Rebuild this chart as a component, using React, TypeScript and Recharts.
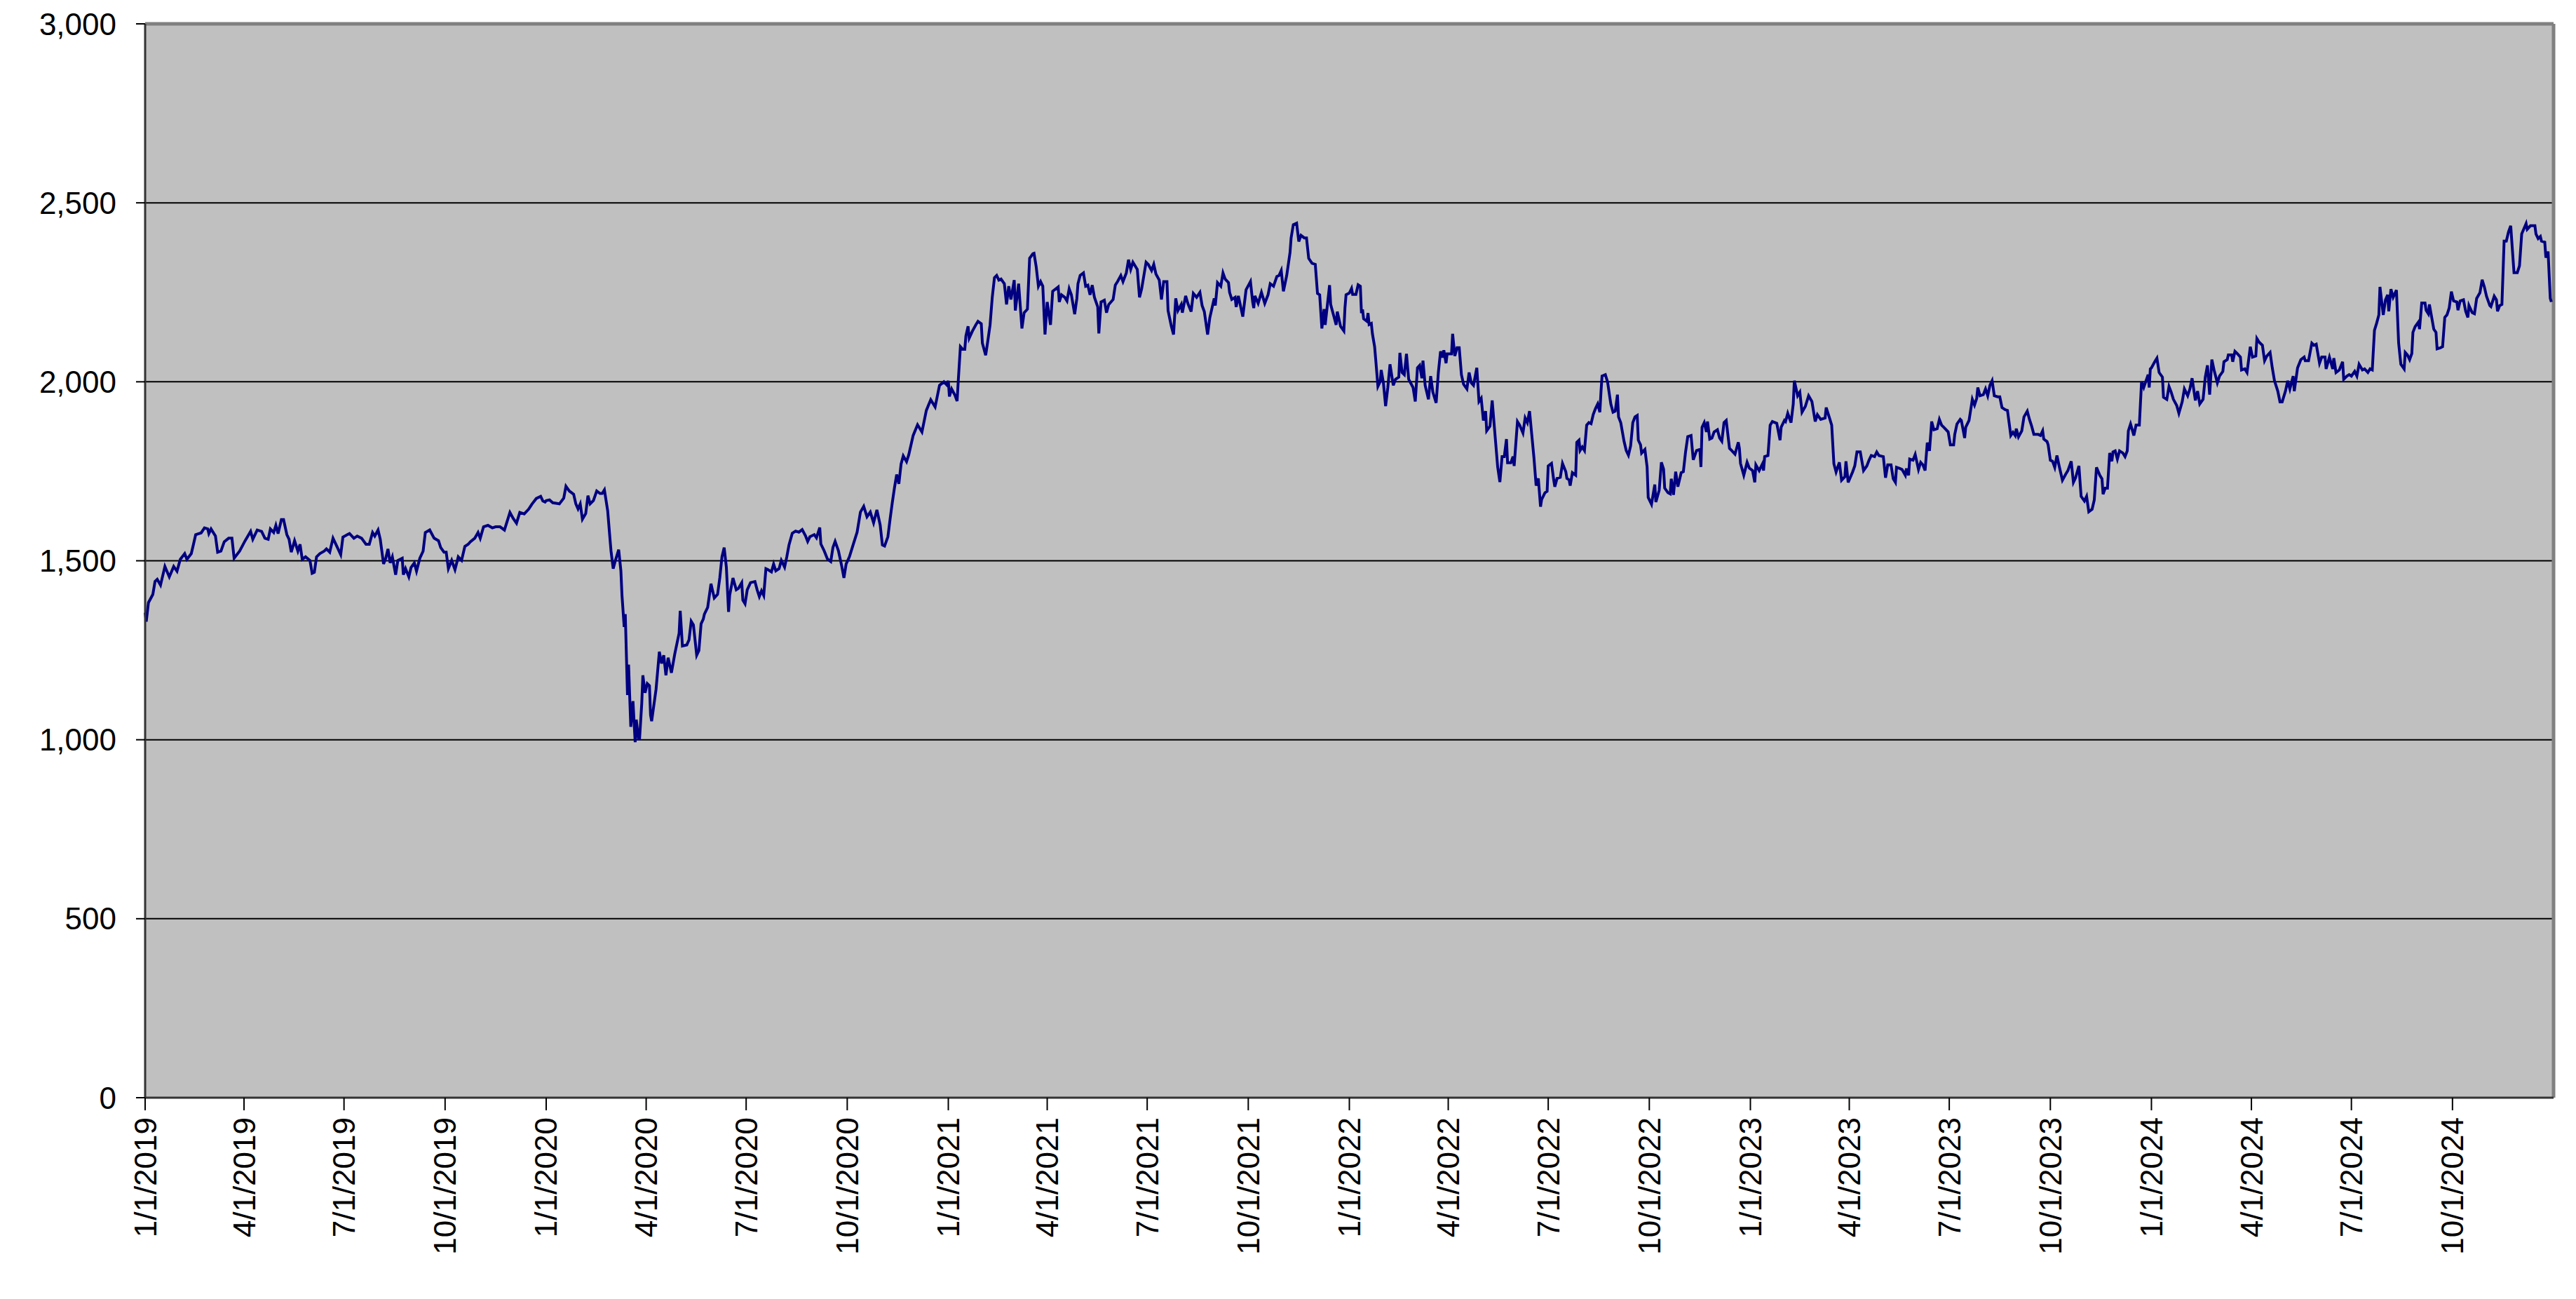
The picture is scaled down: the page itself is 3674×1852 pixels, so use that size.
import { CartesianGrid, Line, LineChart, ReferenceLine, XAxis, YAxis } from 'recharts';

// [day of year, index level], one list per year
const y2019: [number, number][] = [
  [0, 1355], [1, 1330], [3, 1383], [7, 1406], [9, 1442], [11, 1448], [14, 1432], [18, 1484], [22, 1455], [26, 1484],
  [29, 1471], [32, 1504], [36, 1520], [38, 1504], [42, 1520], [44, 1546], [46, 1573], [51, 1578], [54, 1592], [57, 1589],
  [58, 1576], [60, 1589], [64, 1569], [66, 1524], [69, 1527], [72, 1553], [76, 1563], [79, 1563], [81, 1507], [86, 1527],
  [91, 1556], [96, 1582], [98, 1560], [102, 1586], [106, 1582], [109, 1563], [112, 1560], [114, 1589], [117, 1579], [119, 1599],
  [121, 1576], [124, 1615], [126, 1615], [129, 1573], [131, 1560], [133, 1524], [136, 1556], [139, 1527], [141, 1546], [143, 1504],
  [146, 1511], [150, 1501], [152, 1465], [154, 1468], [156, 1511], [159, 1520], [163, 1527], [165, 1533], [168, 1524], [171, 1563],
  [175, 1537], [178, 1517], [180, 1566], [184, 1573], [186, 1576], [190, 1563], [193, 1569], [197, 1563], [201, 1546], [204, 1546],
  [207, 1579], [209, 1569], [212, 1586], [214, 1560], [217, 1491], [219, 1507], [221, 1533], [223, 1494], [225, 1511], [228, 1461],
  [230, 1501], [234, 1507], [235, 1461], [237, 1478], [240, 1455], [242, 1481], [245, 1494], [247, 1471], [250, 1507], [253, 1527],
  [255, 1579], [259, 1586], [263, 1563], [267, 1556], [269, 1537], [272, 1524], [274, 1524], [276, 1478], [279, 1501], [282, 1475],
  [285, 1511], [288, 1501], [291, 1540], [294, 1546], [296, 1553], [300, 1563], [303, 1579], [305, 1563], [308, 1595], [312, 1599],
  [316, 1592], [319, 1595], [323, 1595], [327, 1586], [332, 1635], [335, 1618], [338, 1605], [341, 1635], [345, 1631], [349, 1644],
  [352, 1658], [356, 1674], [360, 1680], [362, 1667], [364, 1664],
];

const y2020: [number, number][] = [
  [0, 1668], [3, 1670], [6, 1662], [10, 1660], [12, 1659], [16, 1675], [18, 1708], [21, 1695], [25, 1686], [27, 1659],
  [29, 1645], [31, 1659], [33, 1616], [36, 1632], [38, 1682], [40, 1659], [43, 1668], [46, 1695], [49, 1688], [51, 1688],
  [53, 1698], [56, 1639], [58, 1564], [59, 1528], [61, 1478], [63, 1501], [65, 1521], [66, 1531], [68, 1472], [69, 1403],
  [71, 1315], [72, 1351], [74, 1125], [75, 1210], [77, 1036], [79, 1108], [81, 993], [82, 1056], [84, 1003], [85, 1003],
  [87, 1102], [88, 1180], [90, 1131], [92, 1157], [94, 1151], [95, 1069], [96, 1052], [100, 1141], [103, 1246], [105, 1213],
  [107, 1236], [109, 1180], [111, 1229], [114, 1187], [117, 1239], [121, 1298], [122, 1360], [124, 1262], [128, 1265], [130, 1279],
  [132, 1331], [134, 1321], [137, 1236], [139, 1249], [141, 1324], [143, 1337], [144, 1351], [147, 1370], [150, 1436], [153, 1396],
  [156, 1406], [158, 1452], [160, 1511], [162, 1537], [164, 1482], [166, 1357], [167, 1403], [170, 1452], [173, 1419], [175, 1423],
  [178, 1439], [179, 1390], [181, 1380], [183, 1419], [186, 1439], [190, 1442], [192, 1419], [194, 1400], [196, 1416], [198, 1403],
  [200, 1478], [202, 1475], [205, 1469], [207, 1491], [209, 1472], [212, 1478], [214, 1501], [217, 1482], [219, 1511], [221, 1544],
  [224, 1577], [227, 1583], [230, 1580], [233, 1587], [236, 1570], [238, 1554], [240, 1567], [244, 1573], [246, 1564], [249, 1593],
  [250, 1547], [253, 1528], [256, 1505], [259, 1498], [261, 1537], [263, 1554], [266, 1528], [269, 1485], [271, 1452], [273, 1491],
  [276, 1511], [279, 1541], [283, 1580], [286, 1636], [289, 1652], [292, 1623], [295, 1636], [298, 1606], [301, 1642], [304, 1600],
  [306, 1544], [308, 1541], [311, 1567], [313, 1616], [315, 1662], [317, 1704], [319, 1741], [321, 1715], [323, 1770], [325, 1793],
  [328, 1777], [330, 1796], [334, 1850], [338, 1880], [342, 1860], [346, 1920], [350, 1950], [354, 1930], [358, 1990], [362, 2000],
  [365, 1990],
];

const y2021: [number, number][] = [
  [0, 2003], [1, 1959], [3, 1980], [6, 1963], [8, 1946], [9, 2000], [11, 2098], [13, 2091], [15, 2091], [16, 2128],
  [18, 2155], [19, 2122], [22, 2142], [25, 2159], [27, 2169], [30, 2162], [31, 2108], [34, 2074], [36, 2115], [38, 2159],
  [40, 2236], [42, 2291], [44, 2297], [46, 2284], [48, 2287], [51, 2274], [53, 2216], [55, 2267], [57, 2230], [60, 2284],
  [61, 2199], [64, 2274], [67, 2149], [69, 2193], [72, 2203], [74, 2345], [77, 2358], [78, 2359], [80, 2321], [82, 2267],
  [84, 2280], [86, 2267], [88, 2132], [90, 2223], [93, 2159], [95, 2253], [100, 2265], [101, 2223], [103, 2243], [106, 2236],
  [108, 2226], [110, 2260], [112, 2243], [115, 2189], [117, 2233], [118, 2274], [120, 2297], [123, 2304], [125, 2267], [127, 2270],
  [129, 2243], [131, 2270], [133, 2236], [136, 2209], [137, 2135], [139, 2223], [142, 2228], [144, 2193], [146, 2216], [150, 2230],
  [152, 2270], [154, 2280], [157, 2297], [159, 2280], [162, 2304], [164, 2341], [166, 2314], [168, 2334], [170, 2324], [172, 2314],
  [174, 2236], [176, 2260], [178, 2297], [180, 2334], [182, 2328], [185, 2311], [187, 2328], [189, 2301], [192, 2284], [194, 2230],
  [196, 2280], [199, 2280], [200, 2199], [203, 2155], [205, 2132], [207, 2233], [209, 2199], [212, 2216], [213, 2193], [216, 2240],
  [218, 2219], [221, 2196], [223, 2247], [226, 2236], [229, 2250], [231, 2213], [233, 2196], [236, 2132], [238, 2179], [242, 2233],
  [243, 2213], [245, 2277], [248, 2267], [250, 2304], [252, 2287], [255, 2277], [256, 2250], [258, 2230], [261, 2236], [262, 2209],
  [264, 2240], [268, 2182], [271, 2257], [275, 2280], [277, 2223], [278, 2206], [279, 2240], [282, 2219], [285, 2250], [288, 2219],
  [291, 2243], [293, 2274], [296, 2267], [299, 2294], [301, 2297], [303, 2311], [305, 2253], [308, 2297], [311, 2361], [312, 2402],
  [314, 2439], [317, 2443], [319, 2392], [321, 2409], [324, 2402], [326, 2402], [328, 2345], [331, 2331], [334, 2328], [336, 2247],
  [338, 2243], [340, 2149], [342, 2203], [343, 2159], [347, 2270], [348, 2216], [351, 2182], [353, 2159], [354, 2196], [357, 2155],
  [360, 2142], [361, 2206], [362, 2243],
];

const y2022: [number, number][] = [
  [0, 2248], [2, 2261], [3, 2244], [6, 2244], [8, 2271], [10, 2267], [11, 2192], [12, 2202], [13, 2176], [16, 2169],
  [17, 2192], [18, 2160], [20, 2163], [21, 2134], [23, 2098], [24, 2062], [26, 1987], [28, 2000], [29, 2033], [31, 1997],
  [33, 1932], [35, 1984], [37, 2049], [40, 1990], [42, 2007], [45, 2013], [46, 2081], [48, 2026], [50, 2020], [52, 2078],
  [54, 2007], [58, 1984], [60, 1945], [62, 2039], [64, 2046], [66, 2010], [67, 2059], [69, 1990], [72, 1951], [74, 2016],
  [76, 1971], [79, 1941], [81, 2026], [83, 2085], [85, 2068], [86, 2088], [88, 2052], [89, 2078], [93, 2078], [94, 2134],
  [96, 2072], [98, 2095], [100, 2095], [102, 2020], [104, 1993], [107, 1980], [109, 2026], [111, 1997], [113, 1990], [116, 2039],
  [118, 1945], [120, 1954], [122, 1892], [124, 1918], [125, 1863], [128, 1876], [130, 1948], [132, 1873], [135, 1762], [137, 1720],
  [139, 1791], [141, 1791], [143, 1840], [144, 1774], [147, 1774], [149, 1791], [150, 1765], [153, 1889], [155, 1879], [158, 1857],
  [160, 1899], [162, 1886], [164, 1918], [166, 1853], [168, 1788], [170, 1710], [172, 1730], [174, 1651], [175, 1671], [178, 1690],
  [180, 1694], [181, 1765], [184, 1772], [186, 1726], [187, 1707], [189, 1730], [192, 1733], [194, 1772], [197, 1749], [198, 1730],
  [200, 1726], [201, 1710], [203, 1746], [206, 1739], [207, 1831], [209, 1837], [210, 1808], [212, 1818], [214, 1808], [216, 1879],
  [218, 1886], [220, 1883], [222, 1909], [224, 1925], [226, 1938], [228, 1915], [229, 1971], [230, 2016], [233, 2020], [235, 2000],
  [237, 1958], [238, 1938], [240, 1915], [242, 1918], [244, 1964], [245, 1902], [247, 1886], [250, 1834], [252, 1808], [254, 1795],
  [256, 1821], [258, 1886], [260, 1902], [262, 1906], [263, 1837], [265, 1824], [266, 1801], [269, 1811], [271, 1762], [272, 1677],
  [275, 1658], [278, 1713], [279, 1664], [282, 1697], [284, 1775], [286, 1756], [287, 1703], [290, 1690], [292, 1687], [293, 1729],
  [295, 1684], [297, 1749], [299, 1707], [302, 1746], [304, 1749], [306, 1804], [308, 1847], [311, 1850], [313, 1782], [316, 1808],
  [319, 1811], [320, 1762], [321, 1873], [323, 1886], [325, 1860], [326, 1889], [328, 1840], [330, 1843], [332, 1860], [335, 1866],
  [337, 1843], [339, 1834], [341, 1886], [343, 1892], [346, 1814], [348, 1808], [351, 1798], [354, 1831], [355, 1814], [356, 1772],
  [359, 1739], [362, 1775], [364, 1759],
];

const y2023: [number, number][] = [
  [2, 1752], [4, 1719], [5, 1768], [8, 1752], [11, 1771], [12, 1752], [13, 1791], [16, 1794], [18, 1879], [20, 1889],
  [24, 1884], [27, 1837], [28, 1873], [31, 1892], [32, 1889], [34, 1912], [37, 1886], [39, 1938], [40, 2003], [43, 1961],
  [45, 1971], [47, 1915], [50, 1931], [53, 1961], [56, 1945], [59, 1889], [61, 1908], [64, 1895], [68, 1899], [69, 1928],
  [72, 1899], [74, 1879], [76, 1771], [78, 1748], [81, 1775], [83, 1725], [86, 1735], [87, 1778], [89, 1719], [93, 1748],
  [95, 1765], [97, 1804], [100, 1804], [103, 1752], [106, 1765], [108, 1781], [110, 1794], [113, 1791], [115, 1804], [117, 1794],
  [121, 1791], [123, 1732], [125, 1768], [128, 1768], [130, 1729], [132, 1719], [133, 1761], [136, 1758], [138, 1755], [141, 1739],
  [142, 1758], [144, 1739], [145, 1784], [148, 1781], [150, 1797], [153, 1755], [155, 1775], [157, 1768], [159, 1752], [161, 1830],
  [163, 1807], [165, 1889], [167, 1866], [170, 1869], [172, 1895], [174, 1879], [176, 1873], [180, 1860], [182, 1824], [185, 1824],
  [186, 1853], [188, 1882], [191, 1895], [192, 1892], [195, 1843], [196, 1873], [199, 1892], [201, 1931], [202, 1951], [204, 1935],
  [206, 1954], [207, 1984], [209, 1961], [212, 1964], [214, 1980], [216, 1961], [218, 1990], [220, 2003], [222, 1961], [225, 1958],
  [227, 1958], [229, 1928], [232, 1922], [234, 1920], [237, 1850], [239, 1859], [241, 1850], [242, 1869], [244, 1846], [247, 1863],
  [249, 1902], [252, 1918], [254, 1895], [256, 1876], [258, 1853], [262, 1853], [264, 1850], [266, 1863], [267, 1840], [270, 1833],
  [271, 1824], [273, 1781], [275, 1778], [277, 1761], [279, 1794], [281, 1765], [284, 1725], [287, 1742], [289, 1752], [292, 1778],
  [294, 1719], [296, 1732], [299, 1765], [301, 1680], [304, 1667], [306, 1680], [308, 1637], [311, 1644], [313, 1670], [315, 1761],
  [318, 1739], [320, 1729], [321, 1686], [323, 1703], [325, 1703], [327, 1801], [329, 1778], [330, 1804], [332, 1807], [334, 1784],
  [336, 1807], [339, 1801], [341, 1791], [343, 1807], [344, 1863], [346, 1882], [349, 1850], [351, 1879], [354, 1879], [356, 2000],
  [358, 1984], [362, 2020], [363, 1984], [364, 2036],
];

const y2024: [number, number][] = [
  [0, 2039], [3, 2056], [5, 2066], [7, 2026], [10, 2013], [11, 1957], [14, 1951], [16, 1987], [18, 1971], [20, 1951],
  [23, 1934], [25, 1912], [28, 1944], [30, 1980], [33, 1961], [35, 1980], [37, 2010], [40, 1948], [42, 1974], [44, 1938],
  [47, 1951], [49, 2013], [51, 2046], [53, 1964], [55, 2062], [57, 2033], [60, 1997], [62, 2016], [65, 2029], [66, 2056],
  [69, 2062], [70, 2075], [73, 2075], [74, 2056], [76, 2085], [78, 2079], [81, 2069], [82, 2033], [85, 2036], [87, 2026],
  [90, 2098], [92, 2069], [95, 2072], [96, 2121], [98, 2111], [101, 2102], [103, 2059], [105, 2072], [108, 2082], [110, 2039],
  [112, 2003], [115, 1974], [117, 1944], [119, 1944], [122, 1974], [124, 2003], [126, 1980], [129, 2016], [130, 1974], [133, 2039],
  [136, 2062], [139, 2069], [140, 2059], [143, 2059], [146, 2108], [148, 2102], [150, 2105], [153, 2052], [155, 2069], [158, 2069],
  [159, 2036], [162, 2069], [165, 2036], [166, 2066], [168, 2026], [171, 2033], [174, 2056], [175, 2007], [178, 2016], [180, 2020],
  [182, 2016], [185, 2029], [187, 2016], [189, 2049], [192, 2033], [194, 2036], [197, 2026], [199, 2036], [201, 2033], [203, 2144],
  [205, 2164], [207, 2187], [208, 2265], [210, 2213], [211, 2187], [213, 2229], [215, 2243], [216, 2197], [218, 2259], [220, 2236],
  [223, 2256], [225, 2108], [227, 2049], [230, 2036], [231, 2082], [233, 2075], [235, 2062], [237, 2079], [238, 2138], [240, 2154],
  [243, 2167], [244, 2147], [246, 2220], [249, 2220], [250, 2200], [252, 2190], [253, 2216], [257, 2147], [259, 2138], [260, 2092],
  [263, 2095], [265, 2098], [267, 2180], [269, 2187], [271, 2206], [273, 2252], [275, 2226], [278, 2223], [279, 2200], [281, 2226],
  [284, 2229], [286, 2197], [288, 2180], [289, 2213], [292, 2193], [294, 2190], [296, 2233], [299, 2249], [301, 2285], [303, 2265],
  [305, 2239], [308, 2213], [309, 2210], [312, 2239], [314, 2229], [315, 2197], [317, 2213], [319, 2216], [321, 2393], [323, 2393],
  [325, 2419], [327, 2436], [330, 2305], [333, 2305], [335, 2324], [337, 2413], [341, 2442], [342, 2426], [345, 2436], [349, 2436],
  [350, 2413], [352, 2400], [354, 2406], [355, 2393], [358, 2390], [359, 2347], [361, 2364], [363, 2233], [364, 2223],
];

const years = [2019, 2020, 2021, 2022, 2023, 2024];
const yearSeries = [y2019, y2020, y2021, y2022, y2023, y2024];

const xTickLabels = [
  '1/1/2019', '4/1/2019', '7/1/2019', '10/1/2019',
  '1/1/2020', '4/1/2020', '7/1/2020', '10/1/2020',
  '1/1/2021', '4/1/2021', '7/1/2021', '10/1/2021',
  '1/1/2022', '4/1/2022', '7/1/2022', '10/1/2022',
  '1/1/2023', '4/1/2023', '7/1/2023', '10/1/2023',
  '1/1/2024', '4/1/2024', '7/1/2024', '10/1/2024',
];
const yTicks = [0, 500, 1000, 1500, 2000, 2500, 3000];

const DAY = 86400000;
const origin = Date.UTC(2019, 0, 1);
const dayIndex = (y: number, m: number, d: number) => Math.round((Date.UTC(y, m - 1, d) - origin) / DAY);

const xTicks = xTickLabels.map((s) => {
  const [m, d, y] = s.split('/').map(Number);
  return dayIndex(y, m, d);
});
const labelByDay: Record<number, string> = {};
xTicks.forEach((t, i) => (labelByDay[t] = xTickLabels[i]));

const data = yearSeries.flatMap((rows, i) => {
  const start = dayIndex(years[i], 1, 1);
  return rows.map(([d, v]) => ({ t: start + d, value: v }));
});
const endDay = dayIndex(2025, 1, 1);

const FONT = '"Liberation Sans", Arial, sans-serif';

const DateTick = (props: any) => {
  const { x, y, payload } = props;
  return (
    <text
      x={x}
      y={y}
      transform={`rotate(-90, ${x}, ${y})`}
      textAnchor="end"
      dominantBaseline="central"
      fontSize={44}
      fontFamily={FONT}
      fill="#000"
    >
      {labelByDay[payload.value]}
    </text>
  );
};

export default function App() {
  return (
    <div style={{ position: 'absolute', left: 0, top: 0, width: 3674, height: 1852, background: '#fff' }}>
      <LineChart width={3674} height={1852} data={data} margin={{ top: 34, right: 32, bottom: 0, left: 0 }}>
        <CartesianGrid vertical={false} stroke="#000" strokeWidth={2} fill="#C0C0C0" fillOpacity={1} />
        <XAxis
          dataKey="t"
          type="number"
          domain={[0, endDay]}
          ticks={xTicks}
          interval={0}
          height={287}
          tickSize={18}
          tickMargin={10}
          stroke="#333"
          strokeWidth={3}
          tickLine={{ stroke: '#000', strokeWidth: 2 }}
          tick={<DateTick />}
        />
        <YAxis
          type="number"
          domain={[0, 3000]}
          ticks={yTicks}
          interval={0}
          width={207}
          tickSize={13}
          tickMargin={28}
          stroke="#333"
          strokeWidth={3}
          tickLine={{ stroke: '#000', strokeWidth: 2 }}
          tick={{ fontSize: 44, fontFamily: FONT, fill: '#000' }}
          tickFormatter={(v: number) => v.toLocaleString('en-US')}
        />
        <ReferenceLine y={3000} stroke="#808080" strokeWidth={5} />
        <ReferenceLine x={endDay} stroke="#808080" strokeWidth={5} />
        <Line
          type="linear"
          dataKey="value"
          stroke="#000080"
          strokeWidth={4}
          dot={false}
          isAnimationActive={false}
        />
      </LineChart>
    </div>
  );
}
